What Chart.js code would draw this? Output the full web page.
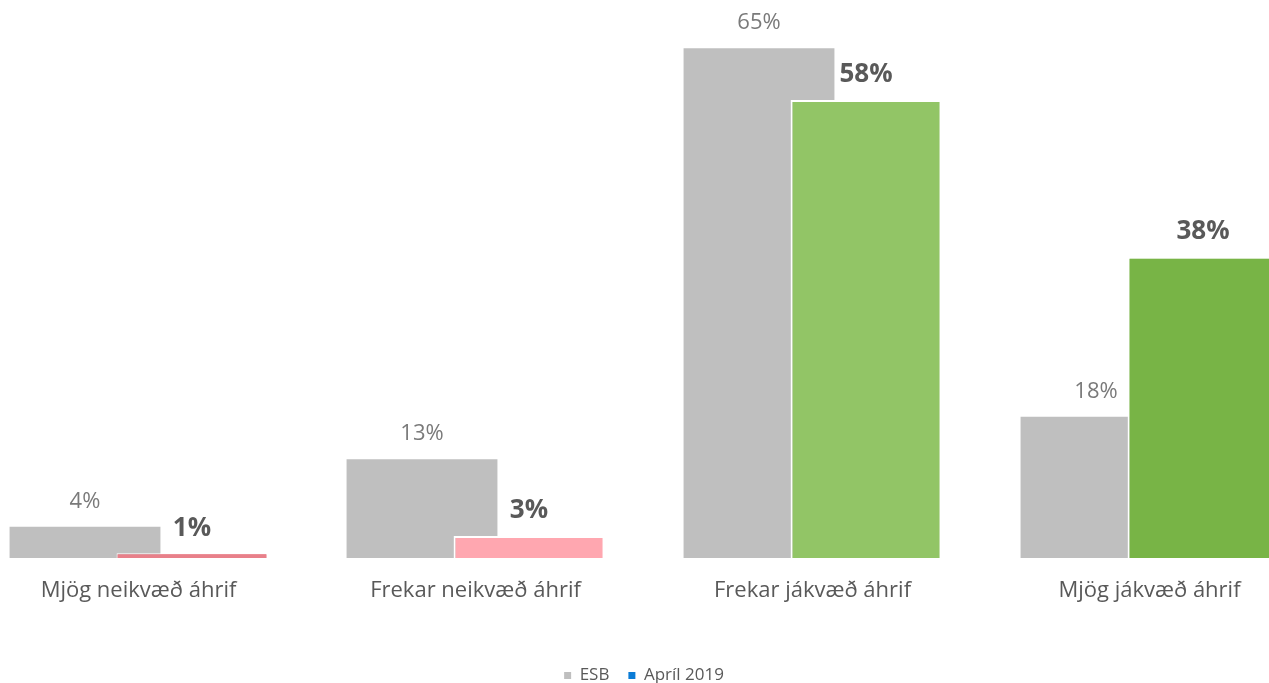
<!DOCTYPE html>
<html>
<head>
<meta charset="utf-8">
<script src="https://cdn.jsdelivr.net/npm/chart.js@4"></script>
<style>
  html, body { margin: 0; padding: 0; background: #fff; overflow: hidden; }
  #wrap { position: absolute; left: -30px; top: 0; width: 1348px; height: 683px; }
</style>
</head>
<body>
<div id="wrap"><canvas id="chart"></canvas></div>
<script>
// categories and series
var categories = ['Mjög neikvæð áhrif', 'Frekar neikvæð áhrif', 'Frekar jákvæð áhrif', 'Mjög jákvæð áhrif'];
var esbValues = [4.0, 12.6, 65.0, 18.0];
var aprilValues = [0.6, 2.8, 58.4, 38.4];
var seriesNames = ['ESB', 'Apríl 2019'];

var esbColor = '#BFBFBF';
var aprilColors = ['#E8808A', '#FFA7B0', '#92C566', '#78B446'];
var aprilLegendColor = '#0B7CD6';
var FONT = '"Open Sans", sans-serif';

// colored series goes on top of the grey one, then the value labels
var overlayPlugin = {
    id: 'overlay',
    afterDatasetsDraw: function(chart) {
        var ctx = chart.ctx;
        chart.getDatasetMeta(1).controller.draw();

        ctx.save();
        ctx.textAlign = 'center';
        ctx.textBaseline = 'middle';
        chart.data.datasets.forEach(function(ds, di) {
            var meta = chart.getDatasetMeta(di);
            ctx.font = di === 0 ? '22px ' + FONT : 'bold 26px ' + FONT;
            ctx.fillStyle = di === 0 ? '#7A7A7A' : '#595959';
            meta.data.forEach(function(bar, i) {
                ctx.fillText(Math.round(ds.data[i]) + '%', bar.x, bar.y - 25);
            });
        });
        ctx.restore();
    }
};

new Chart(document.getElementById('chart'), {
    type: 'bar',
    data: {
        labels: categories,
        datasets: [{
            label: seriesNames[0],
            data: esbValues,
            backgroundColor: esbColor,
            borderWidth: 0,
            categoryPercentage: 0.635,
            barPercentage: 1.41
        }, {
            label: seriesNames[1],
            data: aprilValues,
            backgroundColor: aprilColors,
            borderColor: '#FFFFFF',
            borderWidth: [1, 2, 2, 2],
            categoryPercentage: 0.635,
            barPercentage: 1.41
        }]
    },
    options: {
        responsive: true,
        maintainAspectRatio: false,
        animation: false,
        layout: { padding: { top: 9, bottom: -11, left: 0, right: 0 } },
        scales: {
            x: {
                grid: { display: false, drawTicks: false },
                border: { display: false },
                ticks: {
                    color: '#595959',
                    font: { family: FONT, size: 22 },
                    padding: 20
                },
                afterFit: function(axis) { axis.height = 90; }
            },
            y: {
                display: false,
                min: 0,
                max: 70
            }
        },
        plugins: {
            tooltip: { enabled: false },
            legend: {
                position: 'bottom',
                labels: {
                    boxWidth: 7,
                    boxHeight: 7,
                    padding: 19,
                    color: '#595959',
                    font: { family: FONT, size: 17 },
                    generateLabels: function(chart) {
                        var items = Chart.defaults.plugins.legend.labels.generateLabels(chart);
                        items[0].fillStyle = esbColor;
                        items[1].fillStyle = aprilLegendColor;
                        items.forEach(function(it) { it.lineWidth = 0; it.strokeStyle = 'rgba(0,0,0,0)'; });
                        return items;
                    }
                }
            }
        }
    },
    plugins: [overlayPlugin]
});
</script>
</body>
</html>
